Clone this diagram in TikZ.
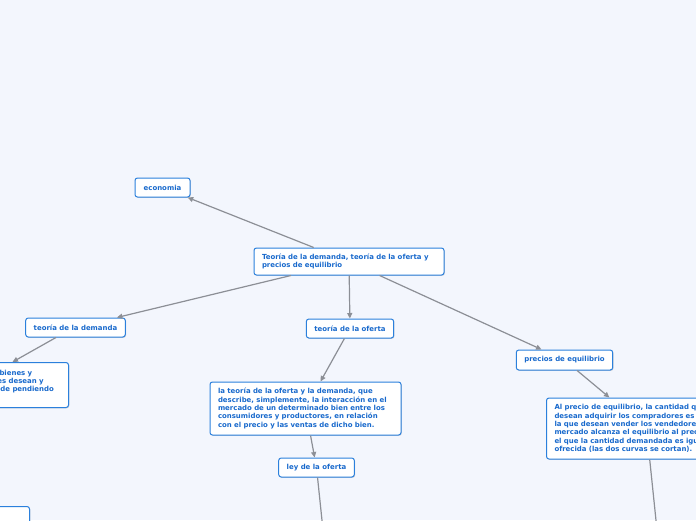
\documentclass[tikz,border=0pt]{standalone}
\usepackage{fontspec}
\setsansfont{DejaVu Sans}
\usetikzlibrary{arrows.meta,shadows}
\definecolor{bgpaper}{HTML}{F3F6FD}
\definecolor{boxline}{HTML}{2B80DC}
\definecolor{boxtext}{HTML}{1869CC}
\definecolor{linkgrey}{HTML}{8C8F96}

\begin{document}
\begin{tikzpicture}[
  x=1pt, y=-1pt,
  topic/.style={draw=boxline, line width=1pt, fill=white, rounded corners=2.5pt,
    font=\sffamily\bfseries\fontsize{6.95}{8.3}\selectfont, text=boxtext,
    inner xsep=8pt, inner ysep=3pt,
    drop shadow={shadow xshift=0.8pt, shadow yshift=-0.8pt, opacity=0.25, fill=black!60}},
  note/.style={topic, align=left},
  link/.style={draw=linkgrey, line width=1.2pt, -{Triangle[length=5.5pt, width=5pt]}},
  tail/.style={draw=linkgrey, line width=1.2pt}
]
\fill[bgpaper] (0,0) rectangle (696,520);
\useasboundingbox (0,0) rectangle (696,520);
\clip (0,0) rectangle (696,520);

% main topic
\node[note, text width=174pt, minimum height=27pt] (root) at (349,261.5)
  {Teoría de la demanda, teoría de la oferta y\\precios de equilibrio};
\node[topic, minimum width=55pt, minimum height=19pt] (econ) at (162.5,187.5) {economia};

% demanda branch
\node[topic, minimum width=99pt, minimum height=19pt] (demanda) at (75.5,327.5) {teoría de la demanda};
\node[note, text width=63pt, minimum height=45pt, anchor=north east] (demdef) at (69,362)
  {\hspace*{2pt}bienes y\\es desean y\\\hspace*{3pt}de pendiendo\\\mbox{}};
\node[topic, minimum width=60pt, minimum height=30pt, anchor=north east] (lowleft) at (30,506) {};

% oferta branch
\node[topic, minimum width=86pt, minimum height=19pt] (oferta) at (350,328.5) {teoría de la oferta};
\node[note, text width=175pt, minimum height=53pt] (ofdef) at (305.5,408.5)
  {la teoría de la oferta y la demanda, que\\describe, simplemente, la interacción en el\\mercado de un determinado bien entre los\\consumidores y productores, en relación\\con el precio y las ventas de dicho bien.};
\node[topic, minimum width=75pt, minimum height=19pt] (ley) at (316.5,467.5) {ley de la oferta};
\coordinate (leyend) at (323,530);

% precios branch
\node[topic, minimum width=95pt, minimum height=20pt] (precios) at (564.5,360) {precios de equilibrio};
\node[note, text width=184pt, minimum height=61pt, anchor=west] (eqdef) at (546,428.5)
  {Al precio de equilibrio, la cantidad q\\desean adquirir los compradores es\\la que desean vender los vendedore\\mercado alcanza el equilibrio al prec\\el que la cantidad demandada es igu\\ofrecida (las dos curvas se cortan).};
\coordinate (eqend) at (657,530);

% connectors
\draw[link] (root) -- (econ);
\draw[link] (root) -- (demanda);
\draw[link] (root) -- (oferta);
\draw[link] (root) -- (precios);
\draw[link] ([xshift=-19.5pt]demanda.south) -- ([xshift=-16.5pt]demdef.north);
\draw[link] (oferta) -- (ofdef);
\draw[link] (ofdef) -- (ley);
\draw[tail] (ley) -- (leyend);
\draw[link] (precios) -- (eqdef);
\draw[tail] (eqdef) -- (eqend);
\end{tikzpicture}
\end{document}
